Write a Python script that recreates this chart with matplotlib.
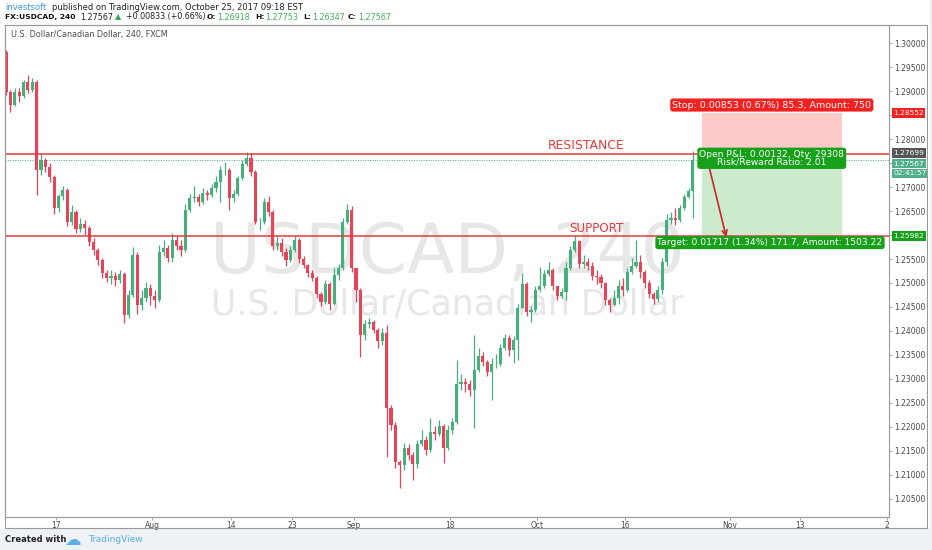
import numpy as np
import matplotlib
matplotlib.use("Agg")
import matplotlib.pyplot as plt
from matplotlib import transforms
from matplotlib.patches import Rectangle

plt.rcParams['font.family'] = ['DejaVu Sans']

# ---------------- data (USDCAD, 240 = 4h; one candle here per half trading day) ----------------
first_open = 1.2982
closes = [
    1.2899, 1.2872, 1.2899, 1.2890, 1.2920, 1.2903, 1.2920, 1.2736, 1.2757, 1.2742,
    1.2721, 1.2656, 1.2681, 1.2694, 1.2627, 1.2648, 1.2613, 1.2623, 1.2615, 1.2586,
    1.2569, 1.2548, 1.2521, 1.2510, 1.2515, 1.2506, 1.2519, 1.2433, 1.2475, 1.2559,
    1.2454, 1.2469, 1.2490, 1.2473, 1.2465, 1.2565, 1.2573, 1.2552, 1.2590, 1.2577,
    1.2569, 1.2652, 1.2677, 1.2679, 1.2669, 1.2688, 1.2684, 1.2698, 1.2711, 1.2736,
    1.2736, 1.2677, 1.2686, 1.2719, 1.2749, 1.2761, 1.2732, 1.2627, 1.2627, 1.2669,
    1.2648, 1.2577, 1.2584, 1.2565, 1.2548, 1.2569, 1.2590, 1.2550, 1.2538, 1.2521,
    1.2510, 1.2477, 1.2460, 1.2498, 1.2456, 1.2517, 1.2531, 1.2627, 1.2652, 1.2531,
    1.2485, 1.2392, 1.2415, 1.2419, 1.2402, 1.2379, 1.2396, 1.2239, 1.2204, 1.2127,
    1.2120, 1.2156, 1.2141, 1.2122, 1.2164, 1.2172, 1.2151, 1.2189, 1.2185, 1.2202,
    1.2156, 1.2193, 1.2210, 1.2289, 1.2294, 1.2289, 1.2277, 1.2318, 1.2348, 1.2335,
    1.2314, 1.2331, 1.2331, 1.2364, 1.2385, 1.2360, 1.2381, 1.2448, 1.2498, 1.2440,
    1.2444, 1.2485, 1.2494, 1.2519, 1.2527, 1.2494, 1.2473, 1.2481, 1.2531, 1.2569,
    1.2588, 1.2540, 1.2544, 1.2536, 1.2515, 1.2513, 1.2500, 1.2465, 1.2454, 1.2469,
    1.2494, 1.2485, 1.2523, 1.2536, 1.2544, 1.2523, 1.2500, 1.2477, 1.2467, 1.2485,
    1.2544, 1.2632, 1.2636, 1.2632, 1.2656, 1.2679, 1.26918, 1.27567,
]
highs = [
    1.2986, 1.2903, 1.2907, 1.2907, 1.2924, 1.2934, 1.2928, 1.2924, 1.2772, 1.2761,
    1.2751, 1.2726, 1.2686, 1.2702, 1.2698, 1.2663, 1.2652, 1.2636, 1.2632, 1.2619,
    1.2594, 1.2573, 1.2552, 1.2527, 1.2527, 1.2523, 1.2527, 1.2523, 1.2485, 1.2575,
    1.2565, 1.2485, 1.2502, 1.2498, 1.2485, 1.2580, 1.2590, 1.2580, 1.2605, 1.2598,
    1.2590, 1.2665, 1.2686, 1.2702, 1.2686, 1.2698, 1.2694, 1.2707, 1.2724, 1.2744,
    1.2753, 1.2740, 1.2694, 1.2724, 1.2757, 1.2774, 1.2772, 1.2736, 1.2636, 1.2677,
    1.2681, 1.2652, 1.2598, 1.2594, 1.2573, 1.2577, 1.2598, 1.2594, 1.2557, 1.2540,
    1.2527, 1.2515, 1.2481, 1.2506, 1.2502, 1.2531, 1.2540, 1.2636, 1.2665, 1.2661,
    1.2531, 1.2490, 1.2423, 1.2427, 1.2423, 1.2406, 1.2406, 1.2412, 1.2245, 1.2210,
    1.2131, 1.2166, 1.2164, 1.2147, 1.2172, 1.2193, 1.2181, 1.2218, 1.2202, 1.2214,
    1.2206, 1.2204, 1.2218, 1.2339, 1.2310, 1.2302, 1.2298, 1.2392, 1.2364, 1.2356,
    1.2339, 1.2343, 1.2352, 1.2373, 1.2394, 1.2392, 1.2390, 1.2456, 1.2521, 1.2502,
    1.2452, 1.2494, 1.2533, 1.2527, 1.2544, 1.2531, 1.2494, 1.2490, 1.2544, 1.2577,
    1.2598, 1.2590, 1.2559, 1.2552, 1.2544, 1.2527, 1.2519, 1.2502, 1.2469, 1.2485,
    1.2506, 1.2510, 1.2531, 1.2552, 1.2590, 1.2559, 1.2527, 1.2506, 1.2481, 1.2494,
    1.2552, 1.2644, 1.2648, 1.2656, 1.2663, 1.2686, 1.2698, 1.27753,
]
lows = [
    1.2893, 1.2857, 1.2870, 1.2878, 1.2886, 1.2897, 1.2899, 1.2684, 1.2726, 1.2732,
    1.2711, 1.2644, 1.2648, 1.2673, 1.2619, 1.2621, 1.2605, 1.2607, 1.2600, 1.2577,
    1.2559, 1.2538, 1.2510, 1.2502, 1.2498, 1.2494, 1.2500, 1.2417, 1.2427, 1.2471,
    1.2435, 1.2444, 1.2460, 1.2454, 1.2448, 1.2460, 1.2557, 1.2544, 1.2544, 1.2569,
    1.2557, 1.2565, 1.2648, 1.2669, 1.2661, 1.2665, 1.2673, 1.2679, 1.2690, 1.2669,
    1.2726, 1.2652, 1.2669, 1.2681, 1.2715, 1.2744, 1.2724, 1.2623, 1.2611, 1.2623,
    1.2640, 1.2569, 1.2569, 1.2557, 1.2536, 1.2544, 1.2565, 1.2542, 1.2531, 1.2513,
    1.2504, 1.2469, 1.2452, 1.2456, 1.2444, 1.2454, 1.2506, 1.2527, 1.2623, 1.2523,
    1.2460, 1.2346, 1.2381, 1.2406, 1.2396, 1.2364, 1.2371, 1.2137, 1.2193, 1.2114,
    1.2072, 1.2110, 1.2131, 1.2089, 1.2114, 1.2160, 1.2141, 1.2147, 1.2172, 1.2181,
    1.2125, 1.2151, 1.2185, 1.2206, 1.2277, 1.2273, 1.2264, 1.2197, 1.2314, 1.2327,
    1.2306, 1.2256, 1.2323, 1.2327, 1.2360, 1.2348, 1.2333, 1.2339, 1.2448, 1.2431,
    1.2419, 1.2440, 1.2481, 1.2490, 1.2515, 1.2485, 1.2465, 1.2469, 1.2465, 1.2527,
    1.2565, 1.2531, 1.2531, 1.2527, 1.2506, 1.2498, 1.2490, 1.2454, 1.2440, 1.2452,
    1.2456, 1.2473, 1.2481, 1.2519, 1.2531, 1.2510, 1.2490, 1.2469, 1.2456, 1.2460,
    1.2477, 1.2536, 1.2623, 1.2621, 1.2627, 1.2652, 1.2677, 1.26347,
]
bar_step_days = 0.5          # trading days per candle
first_bar_day = -0.71        # trading days from Mon Jul 10 2017

xtick_days = [5, 16, 25, 32, 39, 50, 60, 70, 82, 90, 100]
xtick_labels = ["17", "Aug", "14", "23", "Sep", "18", "Oct", "16", "Nov", "13", "2"]
ytick_values = np.round(np.arange(1.205, 1.30001, 0.005), 3)

resistance = 1.27699
support = 1.25982
last_price = 1.27567
stop_price = 1.28552
entry_price = 1.27699
target_price = 1.25982
pos_day0, pos_day1 = 78.8, 94.8

# ---------------- styles ----------------
UP = '#45b07b'
DOWN = '#e84358'
LEVEL = '#e63a3a'
FRAME = '#9a9a9a'
TXT = '#4a4a4a'

W, H = 932, 550
fig = plt.figure(figsize=(W / 100, H / 100), dpi=100)
fig.patch.set_facecolor('#eef1f6')


def fxp(px):
    return px / W


def fyp(py):
    return 1 - py / H


fig.add_artist(Rectangle((0, fyp(529)), fxp(930), 529 / H, transform=fig.transFigure,
                         fc='white', ec='none', zorder=-5))

ax = fig.add_axes([fxp(5), fyp(517), fxp(889) - fxp(5), fyp(25) - fyp(517)])
ax.set_facecolor('white')
ax.set_xlim(-0.83, 100.2)
ax.set_ylim(1.20115, 1.30386)

# watermark
ax.text(0.5, 0.496, 'USDCAD, 240', transform=ax.transAxes, ha='center', va='baseline',
        fontsize=50, color='#e7e7e7', zorder=0.5)
ax.text(0.5, 0.4106, 'U.S. Dollar/Canadian Dollar', transform=ax.transAxes, ha='center',
        va='baseline', fontsize=25, color='#e7e7e7', zorder=0.5)

# candles
c = np.array(closes)
h = np.array(highs)
lo = np.array(lows)
o = np.concatenate([[first_open], c[:-1]])
n = len(c)
t = first_bar_day + bar_step_days * np.arange(n)
col = np.where(c >= o, UP, DOWN)
ax.vlines(t, lo, h, colors=col, linewidth=0.9, zorder=3)
ax.bar(t, np.maximum(np.abs(c - o), 0.00006), bottom=np.minimum(o, c), width=0.36,
       color=col, linewidth=0, zorder=4)

# levels
ax.axhline(last_price, color=UP, lw=0.7, ls=(0, (1, 1.5)), zorder=2)
ax.axhline(resistance, color=LEVEL, lw=1.1, zorder=5)
ax.axhline(support, color=LEVEL, lw=1.1, zorder=5)

# position tool
ax.add_patch(Rectangle((pos_day0, entry_price), pos_day1 - pos_day0, stop_price - entry_price,
                       fc='#fdcaca', ec='none', zorder=1))
ax.add_patch(Rectangle((pos_day0, target_price), pos_day1 - pos_day0, entry_price - target_price,
                       fc='#ccebcc', ec='none', zorder=1))
mid = (pos_day0 + pos_day1) / 2
ax.annotate('Stop: 0.00853 (0.67%) 85.3, Amount: 750', xy=(mid, stop_price),
            xytext=(0, 2.4), textcoords='offset points', ha='center', va='bottom',
            fontsize=6.8, color='white', zorder=8,
            bbox=dict(boxstyle='round,pad=0.22,rounding_size=0.3', fc='#f52020', ec='none'))
ax.annotate('Open P&L: 0.00132, Qty: 29308\nRisk/Reward Ratio: 2.01', xy=(mid, entry_price),
            xytext=(0, -3.3), textcoords='offset points', ha='center', va='center',
            multialignment='center', linespacing=0.9,
            fontsize=6.6, color='white', zorder=8,
            bbox=dict(boxstyle='round,pad=0.22,rounding_size=0.3', fc='#17a01a', ec='none'))
ax.annotate('Target: 0.01717 (1.34%) 171.7, Amount: 1503.22', xy=(mid - 0.2, target_price),
            xytext=(0, -4.8), textcoords='offset points', ha='center', va='center',
            fontsize=6.6, color='white', zorder=8,
            bbox=dict(boxstyle='round,pad=0.22,rounding_size=0.3', fc='#17a01a', ec='none'))
ax.annotate('', xy=(81.6, 1.2596), xytext=(79.7, 1.2738),
            arrowprops=dict(arrowstyle='->', color='#c62828', lw=1.2, shrinkA=0, shrinkB=0,
                            mutation_scale=9), zorder=7)

# level captions
fig.text(fxp(548), fyp(149), 'RESISTANCE', fontsize=8.9, color=LEVEL, va='baseline')
fig.text(fxp(569), fyp(232.5), 'SUPPORT', fontsize=8.6, color=LEVEL, va='baseline')

# axes styling
for s in ax.spines.values():
    s.set_color(FRAME)
    s.set_linewidth(0.8)
ax.yaxis.tick_right()
ax.set_yticks(ytick_values)
hidden = {1.285, 1.275, 1.26}   # covered by the price tags in the reference
ax.set_yticklabels(['' if v in hidden else f'{v:.5f}' for v in ytick_values])
ax.tick_params(axis='y', length=2.5, width=0.6, color=FRAME, pad=1.6, labelsize=5.5,
               labelcolor=TXT)
ax.set_xticks(xtick_days)
ax.set_xticklabels(xtick_labels)
ax.tick_params(axis='x', length=2, width=0.6, color=FRAME, pad=1.0, labelsize=5.5,
               labelcolor=TXT)

# price tags on the right axis
trans = transforms.blended_transform_factory(ax.transAxes, ax.transData)


def price_tag(y, text, fc, dy=0.0):
    ax.annotate(text, xy=(1.0, y), xycoords=trans, xytext=(3.0, dy), textcoords='offset points',
                ha='left', va='center', fontsize=5.4, color='white', zorder=10,
                annotation_clip=False,
                bbox=dict(boxstyle='square,pad=0.22', fc=fc, ec='none'))


price_tag(stop_price, f'{stop_price:.5f}', '#f52020')
price_tag(last_price, f'{last_price:.5f}', '#4fb08a', dy=-2.6)
price_tag(last_price, '02:41:57', '#4fb08a', dy=-9.6)
price_tag(resistance, f'{resistance:.5f}', '#555555', dy=0.6)
price_tag(support, f'{support:.5f}', '#17a01a')

# outer frame of chart + scales
fig.add_artist(Rectangle((fxp(5), fyp(528)), fxp(927) - fxp(5), fyp(25) - fyp(528),
                         transform=fig.transFigure, fill=False, ec=FRAME, lw=0.8, zorder=3))

# header
fs = 6
fig.text(fxp(5), fyp(7), 'investsoft', fontsize=fs, color='#3a9be0', va='center')
fig.text(fxp(52), fyp(7), 'published on TradingView.com, October 25, 2017 09:18 EST',
         fontsize=fs, color='#222222', va='center')
GREEN_T = '#3fae5a'
header2 = [
    (5, 'FX:USDCAD, 240', '#111111', 'bold'),
    (80, '1.27567', '#222222', 'normal'),
    (115, '\u25B2', '#2fa84f', 'normal'),
    (126, '+0.00833 (+0.66%)', '#222222', 'normal'),
    (207, 'O:', '#111111', 'bold'),
    (217, '1.26918', GREEN_T, 'normal'),
    (255, 'H:', '#111111', 'bold'),
    (265, '1.27753', GREEN_T, 'normal'),
    (303, 'L:', '#111111', 'bold'),
    (312, '1.26347', GREEN_T, 'normal'),
    (348, 'C:', '#111111', 'bold'),
    (358, '1.27567', GREEN_T, 'normal'),
]
for px, s, colr, wt in header2:
    fig.text(fxp(px), fyp(17), s, fontsize=5.4 if wt == 'bold' else 5.8, color=colr,
             fontweight=wt, va='center')

fig.text(fxp(11), fyp(35), 'U.S. Dollar/Canadian Dollar, 240, FXCM', fontsize=5.8,
         color=TXT, va='center')

# footer
fig.text(fxp(5), fyp(540), 'Created with', fontsize=6, color='#222222', fontweight='bold',
         va='center')
fig.text(fxp(64), fyp(540), '\u2601', fontsize=12, color='#5cb0e6', va='center')
fig.text(fxp(88), fyp(540), 'TradingView', fontsize=6.5, color='#5cb0e6', va='center')

fig.savefig('out.png', dpi=100, facecolor=fig.get_facecolor())
